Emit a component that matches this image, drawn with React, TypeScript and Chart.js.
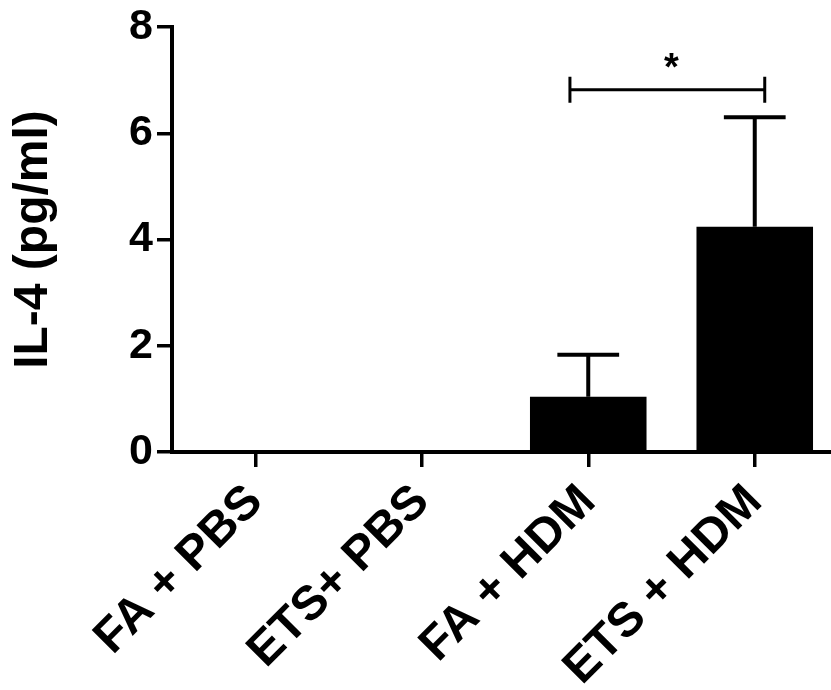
import React, { useEffect, useRef } from "react";
import { Chart, registerables } from "chart.js";

Chart.register(...registerables);

const categories = ["FA + PBS", "ETS+ PBS", "FA + HDM", "ETS + HDM"];
const meanValues = [0, 0, 1.04, 4.24];
const errorValues = [0, 0, 0.79, 2.06];
const yTickValues = [0, 2, 4, 6, 8];
const yTitle = "IL-4 (pg/ml)";
const bracketX = [1.89, 3.06];
const bracketY = 6.82;
const bracketLabel = "*";

const FONT = "'Liberation Sans', Arial, Helvetica, sans-serif";

const errorBarPlugin = {
  id: "errorBars",
  afterDatasetsDraw(chart: any) {
    const { ctx, scales } = chart;
    const x = scales.x;
    const y = scales.y;
    const meta = chart.getDatasetMeta(0);
    ctx.save();
    ctx.strokeStyle = "#000";
    ctx.lineWidth = 4;
    meta.data.forEach((bar: any, i: number) => {
      const err = errorValues[i];
      if (!err) return;
      const cx = bar.x;
      const top = y.getPixelForValue(meanValues[i] + err);
      const base = y.getPixelForValue(meanValues[i]);
      const capHalf = bar.width * 0.265;
      ctx.beginPath();
      ctx.moveTo(cx, base);
      ctx.lineTo(cx, top);
      ctx.moveTo(cx - capHalf, top);
      ctx.lineTo(cx + capHalf, top);
      ctx.stroke();
    });
    // significance bracket
    const x1 = x.getPixelForValue(bracketX[0]);
    const x2 = x.getPixelForValue(bracketX[1]);
    const by = y.getPixelForValue(bracketY);
    ctx.lineWidth = 3;
    ctx.beginPath();
    ctx.moveTo(x1, by);
    ctx.lineTo(x2, by);
    ctx.moveTo(x1, by - 13);
    ctx.lineTo(x1, by + 13);
    ctx.moveTo(x2, by - 13);
    ctx.lineTo(x2, by + 13);
    ctx.stroke();
    ctx.fillStyle = "#000";
    ctx.font = `bold 38px ${FONT}`;
    ctx.textAlign = "center";
    ctx.textBaseline = "middle";
    ctx.fillText(bracketLabel, (x1 + x2) / 2 + 4, by - 20);
    ctx.restore();
  },
};

export default function App() {
  const ref = useRef<HTMLCanvasElement>(null);
  useEffect(() => {
    if (!ref.current) return;
    const chart = new Chart(ref.current, {
      type: "bar",
      data: {
        labels: categories,
        datasets: [
          {
            data: meanValues,
            backgroundColor: "#000",
            borderWidth: 0,
            barPercentage: 0.7,
            categoryPercentage: 1,
          },
        ],
      },
      plugins: [errorBarPlugin],
      options: {
        responsive: false,
        animation: false,
        devicePixelRatio: 1,
        layout: { padding: { top: 27, right: 12, left: 0, bottom: 0 } },
        plugins: { legend: { display: false }, tooltip: { enabled: false } },
        scales: {
          x: {
            grid: {
              offset: false,
              drawOnChartArea: false,
              drawTicks: true,
              tickLength: 15,
              lineWidth: 3.5,
              color: "#000",
            },
            border: { display: true, width: 4, color: "#000" },
            ticks: {
              autoSkip: false,
              maxRotation: 45,
              minRotation: 45,
              padding: 7,
              color: "#000",
              font: { family: FONT, size: 48, weight: "bold" },
            },
            afterFit(scale: any) {
              scale.height = 238;
            },
          },
          y: {
            min: 0,
            max: 8,
            afterBuildTicks(scale: any) {
              scale.ticks = yTickValues.map((v) => ({ value: v }));
            },
            grid: {
              drawOnChartArea: false,
              drawTicks: true,
              tickLength: 15,
              lineWidth: 3.5,
              color: "#000",
            },
            border: { display: true, width: 4, color: "#000" },
            ticks: {
              padding: 4,
              color: "#000",
              font: { family: FONT, size: 43, weight: "bold", lineHeight: 1 },
            },
            title: {
              display: true,
              text: yTitle,
              color: "#000",
              padding: { top: 5, bottom: 0 },
              font: { family: FONT, size: 48, weight: "bold" },
            },
            afterFit(scale: any) {
              scale.width = 172;
            },
          },
        },
      },
    });
    return () => chart.destroy();
  }, []);
  return (
    <div
      style={{
        position: "fixed",
        left: 0,
        top: 0,
        width: 831,
        height: 690,
        overflow: "hidden",
        background: "#fff",
      }}
    >
      <canvas ref={ref} width={850} height={690} />
    </div>
  );
}
